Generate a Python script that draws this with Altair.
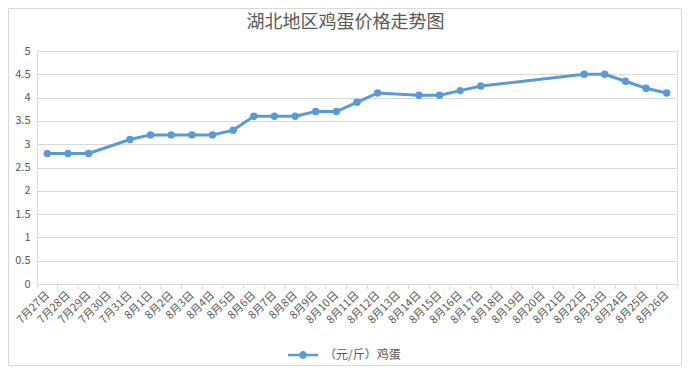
import altair as alt
import pandas as pd

FONT = "Noto Sans CJK SC"
GREY = "#595959"
GRID = "#D9D9D9"
BLUE = "#5B9BD5"

title_text = "湖北地区鸡蛋价格走势图"
series_name = "（元/斤）鸡蛋"

dates = ["7月27日", "7月28日", "7月29日", "7月30日", "7月31日",
         "8月1日", "8月2日", "8月3日", "8月4日", "8月5日",
         "8月6日", "8月7日", "8月8日", "8月9日", "8月10日",
         "8月11日", "8月12日", "8月13日", "8月14日", "8月15日",
         "8月16日", "8月17日", "8月18日", "8月19日", "8月20日",
         "8月21日", "8月22日", "8月23日", "8月24日", "8月25日", "8月26日"]

prices = [2.8, 2.8, 2.8, None, 3.1,
          3.2, 3.2, 3.2, 3.2, 3.3,
          3.6, 3.6, 3.6, 3.7, 3.7,
          3.9, 4.1, None, 4.05, 4.05,
          4.15, 4.25, None, None, None,
          None, 4.5, 4.5, 4.35, 4.2, 4.1]

y_ticks = [0, 0.5, 1, 1.5, 2, 2.5, 3, 3.5, 4, 4.5, 5]

W, H = 640, 233
PAD = {"left": 29, "top": 43, "right": 5, "bottom": 82}

df = pd.DataFrame({"date": dates, "price": prices})
df["series"] = series_name
df = df.dropna(subset=["price"])
ticks_df = pd.DataFrame({"date": dates})

x_enc = alt.X(
    "date:N",
    sort=dates,
    scale=alt.Scale(type="point", domain=dates, padding=0.5),
    axis=alt.Axis(
        title=None, labelAngle=-45, labelAlign="right", labelBaseline="middle",
        ticks=False, domainColor=GRID, labelColor=GREY, labelFontSize=11,
        labelFont=FONT, labelPadding=9, labelOverlap=False, grid=False,
    ),
)
y_enc = alt.Y(
    "price:Q",
    scale=alt.Scale(domain=[0, 5], nice=False),
    axis=alt.Axis(
        title=None, values=y_ticks, format="~g", domain=False, ticks=False,
        gridColor=GRID, labelColor=GREY, labelFontSize=11, labelFont=FONT,
        labelPadding=7,
    ),
)

legend_symbol = ("M-1,-0.09L1,-0.09L1,0.09L-1,0.09Z"
                 "M-0.26,0A0.26,0.26 0 1,1 0.26,0A0.26,0.26 0 1,1 -0.26,0Z")

line = alt.Chart(df).mark_line(color=BLUE, strokeWidth=3).encode(x=x_enc, y=y_enc)

points = alt.Chart(df).mark_point(filled=True, size=55, opacity=1).encode(
    x=x_enc,
    y=y_enc,
    color=alt.Color(
        "series:N",
        scale=alt.Scale(range=[BLUE]),
        legend=alt.Legend(
            title=None, orient="none", legendX=251, legendY=289,
            symbolType=legend_symbol, symbolSize=900, symbolStrokeWidth=0,
            labelFontSize=12, labelColor=GREY, labelFont=FONT, labelOffset=6,
        ),
    ),
)

tick_marks = alt.Chart(ticks_df).mark_rule(color=GRID, xOffset=-W / 62).encode(
    x=x_enc, y=alt.value(H), y2=alt.value(H + 5)
)
last_tick = alt.Chart(alt.Data(values=[{}])).mark_rule(color=GRID).encode(
    x=alt.value(W), y=alt.value(H), y2=alt.value(H + 5)
)

border = alt.Chart(alt.Data(values=[{}])).mark_rect(
    fill="transparent", stroke=GRID, strokeWidth=1
).encode(
    x=alt.value(-PAD["left"] + 0.5), x2=alt.value(W + PAD["right"] - 0.5),
    y=alt.value(-PAD["top"] + 0.5), y2=alt.value(H + PAD["bottom"] - 0.5),
)

title = alt.Chart(alt.Data(values=[{}])).mark_text(
    text=title_text, font=FONT, fontSize=18, fontWeight="normal", color=GREY,
    align="center", baseline="middle",
).encode(x=alt.value(308.5), y=alt.value(-28))

chart = alt.layer(border, tick_marks, last_tick, line, points, title).properties(
    width=W, height=H,
    autosize=alt.AutoSizeParams(type="none"),
    padding=PAD,
).configure_view(stroke=None).configure(background="white")

chart.save("out.html", embed_options={"renderer": "svg", "actions": False})
